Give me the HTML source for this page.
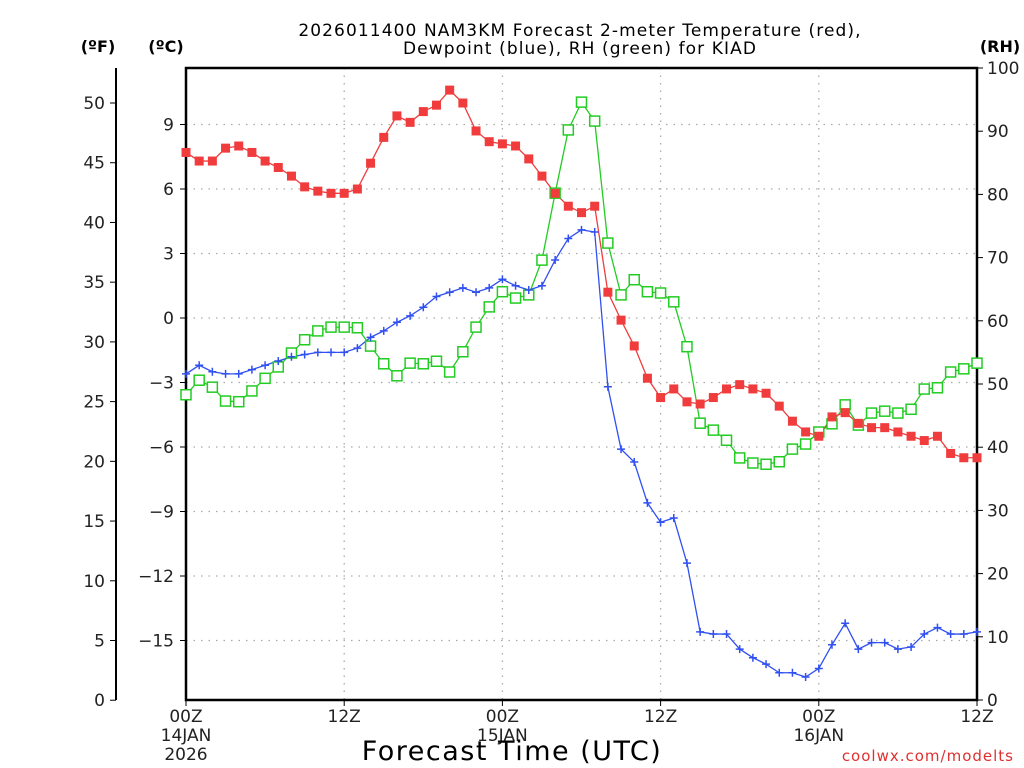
<!DOCTYPE html>
<html><head><meta charset="utf-8"><style>
html,body{margin:0;padding:0;background:#fff;}
svg{display:block;font-family:"DejaVu Sans","Liberation Sans",sans-serif;}
</style></head><body>
<svg id="chart" width="1024" height="768" viewBox="0 0 1024 768" xmlns="http://www.w3.org/2000/svg">
<text x="580" y="36" font-size="17" text-anchor="middle" fill="#000" letter-spacing="1.1">2026011400 NAM3KM Forecast 2-meter Temperature (red),</text>
<text x="580" y="54" font-size="17" text-anchor="middle" fill="#000" letter-spacing="1.1">Dewpoint (blue), RH (green) for KIAD</text>
<text x="98" y="52" font-size="16" font-weight="bold" text-anchor="middle">(ºF)</text>
<text x="166" y="52" font-size="16" font-weight="bold" text-anchor="middle">(ºC)</text>
<text x="1000" y="52" font-size="16" font-weight="bold" text-anchor="middle">(RH)</text>
<g id="grid"></g>
<g id="axes"></g>
<g id="series"></g>
<text x="512" y="760" font-size="27" text-anchor="middle" letter-spacing="1.5">Forecast Time (UTC)</text>
<text x="1014" y="761" font-size="15" fill="#e03030" text-anchor="end" letter-spacing="1">coolwx.com/modelts</text>
</svg>
<script>
const hours = Array.from({length:61},(_, i)=>i);
const tempC = [7.7,7.3,7.3,7.9,8.0,7.7,7.3,7.0,6.6,6.1,5.9,5.8,5.8,6.0,7.2,8.4,9.4,9.1,9.6,9.9,10.6,10.0,8.7,8.2,8.1,8.0,7.4,6.6,5.8,5.2,4.9,5.2,1.2,-0.1,-1.3,-2.8,-3.7,-3.3,-3.9,-4.0,-3.7,-3.3,-3.1,-3.3,-3.5,-4.1,-4.8,-5.3,-5.5,-4.6,-4.4,-4.9,-5.1,-5.1,-5.3,-5.5,-5.7,-5.5,-6.3,-6.5,-6.5];
const dewC = [-2.6,-2.2,-2.5,-2.6,-2.6,-2.4,-2.2,-2.0,-1.8,-1.7,-1.6,-1.6,-1.6,-1.4,-0.9,-0.6,-0.2,0.1,0.5,1.0,1.2,1.4,1.2,1.4,1.8,1.5,1.3,1.5,2.7,3.7,4.1,4.0,-3.2,-6.1,-6.7,-8.6,-9.5,-9.3,-11.4,-14.6,-14.7,-14.7,-15.4,-15.8,-16.1,-16.5,-16.5,-16.7,-16.3,-15.2,-14.2,-15.4,-15.1,-15.1,-15.4,-15.3,-14.7,-14.4,-14.7,-14.7,-14.6];
const rhPct = [48.3,50.6,49.5,47.3,47.2,48.9,50.9,52.7,54.9,57.0,58.4,59.0,59.0,58.9,56.0,53.2,51.3,53.3,53.2,53.6,51.9,55.1,59.0,62.2,64.6,63.6,64.1,69.6,80.2,90.2,94.6,91.6,72.3,64.1,66.5,64.6,64.4,63.0,55.9,43.8,42.7,41.1,38.3,37.5,37.3,37.7,39.7,40.5,42.4,43.7,46.7,43.5,45.4,45.7,45.4,46.0,49.2,49.4,51.9,52.4,53.3];
const cTicks = [9,6,3,0,-3,-6,-9,-12,-15];
const fTicks = [0,5,10,15,20,25,30,35,40,45,50];
const rhTicks = [0,10,20,30,40,50,60,70,80,90,100];
const xTickHours = [0,12,24,36,48,60];
const xTickLabels = [["00Z","14JAN","2026"],["12Z"],["00Z","15JAN"],["12Z"],["00Z","16JAN"],["12Z"]];

const L=186,R=977,T=68,B=700;
const NS="http://www.w3.org/2000/svg";
const xS=h=>L+(R-L)*h/60;
const cS=c=>318-c*21.5;
const fS=f=>cS((f-32)*5/9);
const rS=r=>B-(B-T)*r/100;
function mk(tag,attrs,parent,text){const e=document.createElementNS(NS,tag);for(const k in attrs)e.setAttribute(k,attrs[k]);if(text!==undefined)e.textContent=text;parent.appendChild(e);return e;}
const grid=document.getElementById('grid'),axes=document.getElementById('axes'),ser=document.getElementById('series');

cTicks.forEach(c=>{
  const y=cS(c);
  const g=mk('line',{x1:L,x2:R,y1:y,y2:y,stroke:'#aaa','stroke-width':1.3,'stroke-dasharray':'1.5,6'},grid);
  
  
  mk('line',{x1:L-6,x2:L,y1:y,y2:y,stroke:'#000'},axes);
  const t=mk('text',{x:L-12,y:y+6,'font-size':17,'text-anchor':'end',fill:'#222'},axes,c<0?'\u2212'+(-c):String(c));
  
  
});
xTickHours.forEach((h,i)=>{
  const x=xS(h);
  if(h>0&&h<60){
    const g=mk('line',{x1:x,x2:x,y1:T,y2:B,stroke:'#aaa','stroke-width':1.3,'stroke-dasharray':'1.5,6'},grid);
    
    
  }
  mk('line',{x1:x,x2:x,y1:B,y2:B+6,stroke:'#000'},axes);
  xTickLabels[i].forEach((s,j)=>{
    const t=mk('text',{x:x,y:B+22+j*19,'font-size':17,'text-anchor':'middle',fill:'#222'},axes,s);
    
    
  });
});
const fa=mk('line',{x1:116,x2:116,y1:T,y2:B,stroke:'#000','stroke-width':2},axes);


fTicks.forEach(f=>{
  const y=fS(f);
  mk('line',{x1:110,x2:116,y1:y,y2:y,stroke:'#000'},axes);
  const t=mk('text',{x:105,y:y+6,'font-size':17,'text-anchor':'end',fill:'#222'},axes,String(f));
  
  
});
rhTicks.forEach(r=>{
  const y=rS(r);
  mk('line',{x1:R,x2:R+6,y1:y,y2:y,stroke:'#000'},axes);
  const t=mk('text',{x:R+10,y:y+6,'font-size':17,'text-anchor':'start',fill:'#222'},axes,String(r));
  
  
});
const fr=mk('rect',{x:L,y:T,width:R-L,height:B-T,fill:'none',stroke:'#000','stroke-width':2.5},axes);



function line(vals,ys,color,name){
  const pts=vals.map((v,i)=>xS(hours[i])+','+ys(v)).join(' ');
  const p=mk('polyline',{points:pts,fill:'none',stroke:color,'stroke-width':1.3},ser);
  
  
}
line(rhPct,rS,'#22cc22','rh-line');
line(dewC,cS,'#3050f0','dewpoint-line');
line(tempC,cS,'#f03c3c','temperature-line');
rhPct.forEach((v,i)=>{
  const m=mk('rect',{x:xS(hours[i])-5,y:rS(v)-5,width:10,height:10,fill:'#fff',stroke:'#22cc22','stroke-width':1.5},ser);
  
  
});
dewC.forEach((v,i)=>{
  const x=xS(hours[i]),y=cS(v);
  const m=mk('path',{d:`M${x-4},${y}H${x+4}M${x},${y-4}V${y+4}`,stroke:'#3050f0','stroke-width':1.5},ser);
  
  
});
tempC.forEach((v,i)=>{
  const m=mk('rect',{x:xS(hours[i])-4.5,y:cS(v)-4.5,width:9,height:9,fill:'#f03c3c'},ser);
  
  
});
</script>
</body></html>
